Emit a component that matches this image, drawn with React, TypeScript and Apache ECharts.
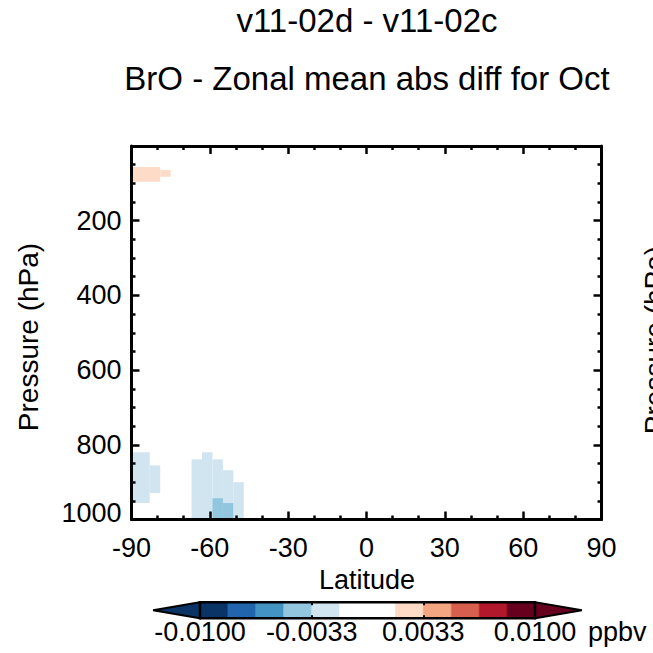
import React, { useEffect, useRef } from "react";
import * as echarts from "echarts";

// ---- data ----
const titleLine1 = "v11-02d - v11-02c";
const titleLine2 = "BrO - Zonal mean abs diff for Oct";
const xName = "Latitude";
const yName = "Pressure (hPa)";
const unitLabel = "ppbv";

// zonal-mean cells (latitude edges, pressure edges in hPa, value in ppbv)
const cellLat0 = [-90, -79, -90, -83, -67, -63, -59, -55, -51, -59, -55];
const cellLat1 = [-79, -75, -83, -79, -63, -59, -55, -51, -47, -55, -51];
const cellPTop = [56, 64, 820, 855, 839, 820, 839, 868, 900, 943, 956];
const cellPBot = [96, 82, 956, 929, 1000, 1000, 1000, 1000, 1000, 1000, 1000];
const cellValue = [0.0025, 0.0025, -0.0025, -0.0025, -0.0025, -0.0025, -0.0025, -0.0025, -0.0025, -0.004, -0.004];

// colour bar
const cbLevels = [-0.01, -0.008333, -0.006667, -0.005, -0.003333, -0.001667, 0, 0.001667, 0.003333, 0.005, 0.006667, 0.008333, 0.01];
const cbColors = ["#0a3466", "#2166ac", "#4393c3", "#92c5de", "#d1e5f0", "#ffffff", "#ffffff", "#fddbc7", "#f4a582", "#d6604d", "#b2182b", "#67001f"];
const cbUnder = "#0a3466";
const cbOver = "#67001f";
const cbLabelValues = [-0.01, -0.003333, 0.003333, 0.01];
const cbTickValues = [-0.003333, 0.003333];
const cbExt = 0.0028;

const latTickInterval = 30;
const presTickInterval = 200;

const FONT = "'Liberation Sans', Arial, Helvetica, sans-serif";

function colorFor(v: number): string {
  if (v < cbLevels[0]) return cbUnder;
  for (let i = 0; i < cbColors.length; i++) {
    if (v >= cbLevels[i] && v < cbLevels[i + 1]) return cbColors[i];
  }
  return cbOver;
}

export default function App() {
  const ref = useRef<HTMLDivElement>(null);

  useEffect(() => {
    if (!ref.current) return;
    const chart = echarts.init(ref.current, null, { renderer: "svg" });

    const cellData = cellLat0.map((_, i) => [cellLat0[i], cellLat1[i], cellPTop[i], cellPBot[i], cellValue[i]]);
    const cbData: number[][] = cbColors.map((_, i) => [cbLevels[i], cbLevels[i + 1], i, 0]);
    cbData.push([cbLevels[0] - cbExt, cbLevels[0], -1, 1]);
    cbData.push([cbLevels[cbLevels.length - 1], cbLevels[cbLevels.length - 1] + cbExt, -2, 2]);
    cbData.push([cbLevels[0], cbLevels[cbLevels.length - 1], -3, 3]);

    const black = "#000";
    const tickCommon = {
      axisLine: { show: true, onZero: false, lineStyle: { color: black, width: 3 } },
      axisTick: { show: true, inside: true, length: 8, lineStyle: { color: black, width: 2.5 } },
      minorTick: { show: true, length: 4, lineStyle: { color: black, width: 2.5 } },
      splitLine: { show: false },
      minorSplitLine: { show: false },
      z: 10,
    };
    const labelStyle = { color: black, fontSize: 27, fontFamily: FONT };

    const option: any = {
      animation: false,
      backgroundColor: "#fff",
      grid: [
        { left: 131.5, top: 146, width: 470, height: 373.5, show: false },
        { left: 153.1, top: 602.3, width: 428.8, height: 16, show: false },
      ],
      xAxis: [
        {
          type: "value", gridIndex: 0, position: "bottom", min: -90, max: 90, interval: latTickInterval,
          ...tickCommon,
          minorTick: { ...tickCommon.minorTick, splitNumber: 3 },
          axisLabel: { ...labelStyle, margin: 15 },
        },
        {
          type: "value", gridIndex: 0, position: "top", min: -90, max: 90, interval: latTickInterval,
          ...tickCommon,
          minorTick: { ...tickCommon.minorTick, splitNumber: 3 },
          axisLabel: { show: false },
        },
        {
          type: "value", gridIndex: 1, position: "bottom", min: cbLevels[0] - cbExt, max: cbLevels[cbLevels.length - 1] + cbExt,
          axisLine: { show: false },
          axisTick: { show: true, inside: true, length: 3, customValues: cbTickValues, lineStyle: { color: black, width: 2 } },
          axisLabel: { ...labelStyle, margin: 0, customValues: cbLabelValues, formatter: (v: number) => v.toFixed(4) },
          splitLine: { show: false },
          z: 10,
        },
        {
          type: "value", gridIndex: 1, position: "top", min: cbLevels[0] - cbExt, max: cbLevels[cbLevels.length - 1] + cbExt,
          axisLine: { show: false },
          axisTick: { show: true, inside: true, length: 3, customValues: cbTickValues, lineStyle: { color: black, width: 2 } },
          axisLabel: { show: false, customValues: cbTickValues },
          splitLine: { show: false },
          z: 10,
        },
      ],
      yAxis: [
        {
          type: "value", gridIndex: 0, position: "left", inverse: true, min: 0, max: 1000, interval: presTickInterval,
          ...tickCommon,
          minorTick: { ...tickCommon.minorTick, splitNumber: 4 },
          axisLabel: {
            ...labelStyle,
            margin: 10,
            formatter: (v: number) => (v === 0 ? "" : v === 1000 ? "{up|1000}" : String(v)),
            rich: { up: { color: black, fontSize: 27, fontFamily: FONT, padding: [0, 0, 14, 0] } },
          },
        },
        {
          type: "value", gridIndex: 0, position: "right", inverse: true, min: 0, max: 1000, interval: presTickInterval,
          ...tickCommon,
          minorTick: { ...tickCommon.minorTick, splitNumber: 4 },
          axisLabel: { show: false },
        },
        { type: "value", gridIndex: 1, min: 0, max: 1, show: false },
      ],
      series: [
        {
          type: "custom",
          xAxisIndex: 0,
          yAxisIndex: 0,
          clip: true,
          z: 2,
          data: cellData,
          encode: { x: [0, 1], y: [2, 3] },
          renderItem: (params: any, api: any) => {
            const a = api.coord([api.value(0), api.value(2)]);
            const b = api.coord([api.value(1), api.value(3)]);
            return {
              type: "rect",
              shape: {
                x: Math.min(a[0], b[0]),
                y: Math.min(a[1], b[1]),
                width: Math.abs(b[0] - a[0]),
                height: Math.abs(b[1] - a[1]),
              },
              style: { fill: colorFor(api.value(4)) },
            };
          },
        },
        {
          type: "custom",
          xAxisIndex: 2,
          yAxisIndex: 2,
          z: 2,
          data: cbData,
          encode: { x: [0, 1] },
          renderItem: (params: any, api: any) => {
            const lo = api.value(0);
            const hi = api.value(1);
            const idx = api.value(2);
            const kind = api.value(3);
            if (kind === 0) {
              const a = api.coord([lo, 1]);
              const b = api.coord([hi, 0]);
              return {
                type: "rect",
                shape: { x: a[0], y: a[1], width: b[0] - a[0], height: b[1] - a[1] },
                style: { fill: cbColors[idx], stroke: cbColors[idx], lineWidth: 0.5 },
              };
            }
            if (kind === 1) {
              return {
                type: "polygon",
                z2: 5,
                shape: { points: [api.coord([lo, 0.5]), api.coord([hi, 1]), api.coord([hi, 0])] },
                style: { fill: cbUnder, stroke: black, lineWidth: 2 },
              };
            }
            if (kind === 2) {
              return {
                type: "polygon",
                z2: 5,
                shape: { points: [api.coord([lo, 1]), api.coord([hi, 0.5]), api.coord([lo, 0])] },
                style: { fill: cbOver, stroke: black, lineWidth: 2 },
              };
            }
            const a = api.coord([lo, 1]);
            const b = api.coord([hi, 0]);
            return {
              type: "rect",
              z2: 6,
              shape: { x: a[0], y: a[1], width: b[0] - a[0], height: b[1] - a[1] },
              style: { fill: "none", stroke: black, lineWidth: 2.5 },
            };
          },
        },
      ],
      graphic: [
        { type: "text", x: 367, y: 20, style: { text: titleLine1, fill: black, font: `33px ${FONT}`, align: "center", verticalAlign: "middle" } },
        { type: "text", x: 367, y: 78, style: { text: titleLine2, fill: black, font: `33px ${FONT}`, align: "center", verticalAlign: "middle" } },
        { type: "text", x: 367, y: 580, style: { text: xName, fill: black, font: `27px ${FONT}`, align: "center", verticalAlign: "middle" } },
        { type: "text", x: 28, y: 337, rotation: Math.PI / 2, style: { text: yName, fill: black, font: `28px ${FONT}`, align: "center", verticalAlign: "middle" } },
        { type: "text", x: 654, y: 340, rotation: Math.PI / 2, style: { text: yName, fill: black, font: `28px ${FONT}`, align: "center", verticalAlign: "middle" } },
        { type: "text", x: 588, y: 632, style: { text: unitLabel, fill: black, font: `27px ${FONT}`, align: "left", verticalAlign: "middle" } },
      ],
    };

    chart.setOption(option);
    return () => chart.dispose();
  }, []);

  return <div ref={ref} style={{ position: "fixed", left: 0, top: 0, width: 653, height: 653 }} />;
}
